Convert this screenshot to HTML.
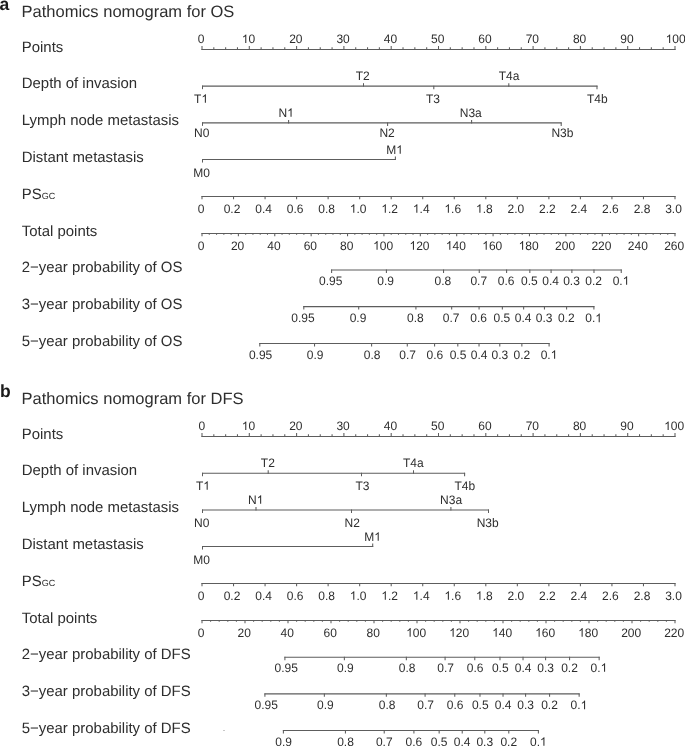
<!DOCTYPE html>
<html><head><meta charset="utf-8"><style>
html,body{margin:0;padding:0;background:#fff;}
svg{display:block;will-change:transform;text-rendering:geometricPrecision;font-family:"Liberation Sans", sans-serif;}
</style></head><body>
<svg width="685" height="746" viewBox="0 0 685 746">
<text x="-0.50" y="10.20" font-size="17.5" text-anchor="start" font-weight="bold" fill="#1a1a1a">a</text>
<text x="21.60" y="17.00" font-size="16.5" text-anchor="start" font-weight="normal" fill="#2e2e2e">Pathomics nomogram for OS</text>
<text x="21.75" y="51.90" font-size="14.95" text-anchor="start" font-weight="normal" fill="#2e2e2e">Points</text>
<line x1="201.50" y1="49.50" x2="675.50" y2="49.50" stroke="#5d5d5d" stroke-width="1.06"/>
<line x1="202.00" y1="50.00" x2="202.00" y2="46.00" stroke="#5d5d5d" stroke-width="1.06"/>
<text x="197.86" y="0" font-size="12" fill="#2e2e2e" transform="translate(0,43.00) scale(1,1.03)">0</text>
<line x1="213.82" y1="50.00" x2="213.82" y2="47.20" stroke="#5d5d5d" stroke-width="1.06"/>
<line x1="225.65" y1="50.00" x2="225.65" y2="47.20" stroke="#5d5d5d" stroke-width="1.06"/>
<line x1="237.47" y1="50.00" x2="237.47" y2="47.20" stroke="#5d5d5d" stroke-width="1.06"/>
<line x1="249.30" y1="50.00" x2="249.30" y2="46.00" stroke="#5d5d5d" stroke-width="1.06"/>
<text x="241.83" y="0" font-size="12" fill="#2e2e2e" transform="translate(0,43.00) scale(1,1.03)"> 0</text>
<path d="M763 0L583 0L583 1147Q518 1085 412 1023Q306 961 222 930L222 1104Q373 1175 486 1276Q599 1377 646 1466L763 1466Z" fill="#2e2e2e" transform="translate(241.83,43.00) scale(0.005859,-0.005859)"/>
<line x1="261.12" y1="50.00" x2="261.12" y2="47.20" stroke="#5d5d5d" stroke-width="1.06"/>
<line x1="272.95" y1="50.00" x2="272.95" y2="47.20" stroke="#5d5d5d" stroke-width="1.06"/>
<line x1="284.77" y1="50.00" x2="284.77" y2="47.20" stroke="#5d5d5d" stroke-width="1.06"/>
<line x1="296.60" y1="50.00" x2="296.60" y2="46.00" stroke="#5d5d5d" stroke-width="1.06"/>
<text x="289.13" y="0" font-size="12" fill="#2e2e2e" transform="translate(0,43.00) scale(1,1.03)">20</text>
<line x1="308.43" y1="50.00" x2="308.43" y2="47.20" stroke="#5d5d5d" stroke-width="1.06"/>
<line x1="320.25" y1="50.00" x2="320.25" y2="47.20" stroke="#5d5d5d" stroke-width="1.06"/>
<line x1="332.07" y1="50.00" x2="332.07" y2="47.20" stroke="#5d5d5d" stroke-width="1.06"/>
<line x1="343.90" y1="50.00" x2="343.90" y2="46.00" stroke="#5d5d5d" stroke-width="1.06"/>
<text x="336.43" y="0" font-size="12" fill="#2e2e2e" transform="translate(0,43.00) scale(1,1.03)">30</text>
<line x1="355.73" y1="50.00" x2="355.73" y2="47.20" stroke="#5d5d5d" stroke-width="1.06"/>
<line x1="367.55" y1="50.00" x2="367.55" y2="47.20" stroke="#5d5d5d" stroke-width="1.06"/>
<line x1="379.38" y1="50.00" x2="379.38" y2="47.20" stroke="#5d5d5d" stroke-width="1.06"/>
<line x1="391.20" y1="50.00" x2="391.20" y2="46.00" stroke="#5d5d5d" stroke-width="1.06"/>
<text x="383.73" y="0" font-size="12" fill="#2e2e2e" transform="translate(0,43.00) scale(1,1.03)">40</text>
<line x1="403.02" y1="50.00" x2="403.02" y2="47.20" stroke="#5d5d5d" stroke-width="1.06"/>
<line x1="414.85" y1="50.00" x2="414.85" y2="47.20" stroke="#5d5d5d" stroke-width="1.06"/>
<line x1="426.68" y1="50.00" x2="426.68" y2="47.20" stroke="#5d5d5d" stroke-width="1.06"/>
<line x1="438.50" y1="50.00" x2="438.50" y2="46.00" stroke="#5d5d5d" stroke-width="1.06"/>
<text x="431.03" y="0" font-size="12" fill="#2e2e2e" transform="translate(0,43.00) scale(1,1.03)">50</text>
<line x1="450.32" y1="50.00" x2="450.32" y2="47.20" stroke="#5d5d5d" stroke-width="1.06"/>
<line x1="462.15" y1="50.00" x2="462.15" y2="47.20" stroke="#5d5d5d" stroke-width="1.06"/>
<line x1="473.98" y1="50.00" x2="473.98" y2="47.20" stroke="#5d5d5d" stroke-width="1.06"/>
<line x1="485.80" y1="50.00" x2="485.80" y2="46.00" stroke="#5d5d5d" stroke-width="1.06"/>
<text x="478.33" y="0" font-size="12" fill="#2e2e2e" transform="translate(0,43.00) scale(1,1.03)">60</text>
<line x1="497.62" y1="50.00" x2="497.62" y2="47.20" stroke="#5d5d5d" stroke-width="1.06"/>
<line x1="509.45" y1="50.00" x2="509.45" y2="47.20" stroke="#5d5d5d" stroke-width="1.06"/>
<line x1="521.27" y1="50.00" x2="521.27" y2="47.20" stroke="#5d5d5d" stroke-width="1.06"/>
<line x1="533.10" y1="50.00" x2="533.10" y2="46.00" stroke="#5d5d5d" stroke-width="1.06"/>
<text x="525.63" y="0" font-size="12" fill="#2e2e2e" transform="translate(0,43.00) scale(1,1.03)">70</text>
<line x1="544.92" y1="50.00" x2="544.92" y2="47.20" stroke="#5d5d5d" stroke-width="1.06"/>
<line x1="556.75" y1="50.00" x2="556.75" y2="47.20" stroke="#5d5d5d" stroke-width="1.06"/>
<line x1="568.58" y1="50.00" x2="568.58" y2="47.20" stroke="#5d5d5d" stroke-width="1.06"/>
<line x1="580.40" y1="50.00" x2="580.40" y2="46.00" stroke="#5d5d5d" stroke-width="1.06"/>
<text x="572.93" y="0" font-size="12" fill="#2e2e2e" transform="translate(0,43.00) scale(1,1.03)">80</text>
<line x1="592.23" y1="50.00" x2="592.23" y2="47.20" stroke="#5d5d5d" stroke-width="1.06"/>
<line x1="604.05" y1="50.00" x2="604.05" y2="47.20" stroke="#5d5d5d" stroke-width="1.06"/>
<line x1="615.88" y1="50.00" x2="615.88" y2="47.20" stroke="#5d5d5d" stroke-width="1.06"/>
<line x1="627.70" y1="50.00" x2="627.70" y2="46.00" stroke="#5d5d5d" stroke-width="1.06"/>
<text x="620.23" y="0" font-size="12" fill="#2e2e2e" transform="translate(0,43.00) scale(1,1.03)">90</text>
<line x1="639.52" y1="50.00" x2="639.52" y2="47.20" stroke="#5d5d5d" stroke-width="1.06"/>
<line x1="651.35" y1="50.00" x2="651.35" y2="47.20" stroke="#5d5d5d" stroke-width="1.06"/>
<line x1="663.17" y1="50.00" x2="663.17" y2="47.20" stroke="#5d5d5d" stroke-width="1.06"/>
<line x1="675.00" y1="50.00" x2="675.00" y2="46.00" stroke="#5d5d5d" stroke-width="1.06"/>
<text x="665.69" y="0" font-size="12" fill="#2e2e2e" transform="translate(0,43.00) scale(1,1.03)"> 00</text>
<path d="M763 0L583 0L583 1147Q518 1085 412 1023Q306 961 222 930L222 1104Q373 1175 486 1276Q599 1377 646 1466L763 1466Z" fill="#2e2e2e" transform="translate(665.69,43.00) scale(0.005859,-0.005859)"/>
<text x="21.75" y="87.90" font-size="14.95" text-anchor="start" font-weight="normal" fill="#2e2e2e">Depth of invasion</text>
<line x1="202.00" y1="86.15" x2="597.50" y2="86.15" stroke="#5d5d5d" stroke-width="1.06"/>
<line x1="202.50" y1="85.65" x2="202.50" y2="89.15" stroke="#5d5d5d" stroke-width="1.06"/>
<text x="194.10" y="0" font-size="12" fill="#2e2e2e" transform="translate(0,102.85) scale(1,1.03)">T </text>
<path d="M763 0L583 0L583 1147Q518 1085 412 1023Q306 961 222 930L222 1104Q373 1175 486 1276Q599 1377 646 1466L763 1466Z" fill="#2e2e2e" transform="translate(201.43,102.85) scale(0.005859,-0.005859)"/>
<line x1="363.50" y1="86.65" x2="363.50" y2="83.15" stroke="#5d5d5d" stroke-width="1.06"/>
<text x="355.70" y="0" font-size="12" fill="#2e2e2e" transform="translate(0,80.00) scale(1,1.03)">T2</text>
<line x1="433.80" y1="85.65" x2="433.80" y2="89.15" stroke="#5d5d5d" stroke-width="1.06"/>
<text x="426.00" y="0" font-size="12" fill="#2e2e2e" transform="translate(0,102.85) scale(1,1.03)">T3</text>
<line x1="508.80" y1="86.65" x2="508.80" y2="83.15" stroke="#5d5d5d" stroke-width="1.06"/>
<text x="498.76" y="0" font-size="12" fill="#2e2e2e" transform="translate(0,80.00) scale(1,1.03)">T4a</text>
<line x1="597.00" y1="85.65" x2="597.00" y2="89.15" stroke="#5d5d5d" stroke-width="1.06"/>
<text x="586.96" y="0" font-size="12" fill="#2e2e2e" transform="translate(0,102.85) scale(1,1.03)">T4b</text>
<text x="21.75" y="124.90" font-size="14.95" text-anchor="start" font-weight="normal" fill="#2e2e2e">Lymph node metastasis</text>
<line x1="202.00" y1="122.88" x2="561.70" y2="122.88" stroke="#5d5d5d" stroke-width="1.06"/>
<line x1="202.50" y1="122.38" x2="202.50" y2="125.88" stroke="#5d5d5d" stroke-width="1.06"/>
<text x="194.03" y="0" font-size="12" fill="#2e2e2e" transform="translate(0,136.75) scale(1,1.03)">N0</text>
<line x1="288.60" y1="123.38" x2="288.60" y2="119.88" stroke="#5d5d5d" stroke-width="1.06"/>
<text x="278.43" y="0" font-size="12" fill="#2e2e2e" transform="translate(0,116.85) scale(1,1.03)">N </text>
<path d="M763 0L583 0L583 1147Q518 1085 412 1023Q306 961 222 930L222 1104Q373 1175 486 1276Q599 1377 646 1466L763 1466Z" fill="#2e2e2e" transform="translate(287.10,116.85) scale(0.005859,-0.005859)"/>
<line x1="387.60" y1="122.38" x2="387.60" y2="125.88" stroke="#5d5d5d" stroke-width="1.06"/>
<text x="379.43" y="0" font-size="12" fill="#2e2e2e" transform="translate(0,136.75) scale(1,1.03)">N2</text>
<line x1="471.60" y1="123.38" x2="471.60" y2="119.88" stroke="#5d5d5d" stroke-width="1.06"/>
<text x="459.79" y="0" font-size="12" fill="#2e2e2e" transform="translate(0,116.85) scale(1,1.03)">N3a</text>
<line x1="561.20" y1="122.38" x2="561.20" y2="125.88" stroke="#5d5d5d" stroke-width="1.06"/>
<text x="551.39" y="0" font-size="12" fill="#2e2e2e" transform="translate(0,136.75) scale(1,1.03)">N3b</text>
<text x="21.75" y="161.90" font-size="14.95" text-anchor="start" font-weight="normal" fill="#2e2e2e">Distant metastasis</text>
<line x1="202.00" y1="159.55" x2="395.90" y2="159.55" stroke="#5d5d5d" stroke-width="1.06"/>
<line x1="202.50" y1="159.05" x2="202.50" y2="162.55" stroke="#5d5d5d" stroke-width="1.06"/>
<text x="193.37" y="0" font-size="12" fill="#2e2e2e" transform="translate(0,176.70) scale(1,1.03)">M0</text>
<line x1="395.40" y1="160.05" x2="395.40" y2="156.55" stroke="#5d5d5d" stroke-width="1.06"/>
<text x="386.27" y="0" font-size="12" fill="#2e2e2e" transform="translate(0,153.80) scale(1,1.03)">M </text>
<path d="M763 0L583 0L583 1147Q518 1085 412 1023Q306 961 222 930L222 1104Q373 1175 486 1276Q599 1377 646 1466L763 1466Z" fill="#2e2e2e" transform="translate(396.26,153.80) scale(0.005859,-0.005859)"/>
<text x="21.75" y="198.80" font-size="14.95" fill="#2e2e2e">PS<tspan font-size="9">GC</tspan></text>
<line x1="201.50" y1="196.50" x2="675.50" y2="196.50" stroke="#5d5d5d" stroke-width="1.06"/>
<line x1="202.00" y1="196.00" x2="202.00" y2="199.20" stroke="#5d5d5d" stroke-width="1.06"/>
<text x="197.86" y="0" font-size="12" fill="#2e2e2e" transform="translate(0,212.80) scale(1,1.03)">0</text>
<line x1="233.53" y1="196.00" x2="233.53" y2="199.20" stroke="#5d5d5d" stroke-width="1.06"/>
<text x="223.69" y="0" font-size="12" fill="#2e2e2e" transform="translate(0,212.80) scale(1,1.03)">0.2</text>
<line x1="265.07" y1="196.00" x2="265.07" y2="199.20" stroke="#5d5d5d" stroke-width="1.06"/>
<text x="255.23" y="0" font-size="12" fill="#2e2e2e" transform="translate(0,212.80) scale(1,1.03)">0.4</text>
<line x1="296.60" y1="196.00" x2="296.60" y2="199.20" stroke="#5d5d5d" stroke-width="1.06"/>
<text x="286.76" y="0" font-size="12" fill="#2e2e2e" transform="translate(0,212.80) scale(1,1.03)">0.6</text>
<line x1="328.13" y1="196.00" x2="328.13" y2="199.20" stroke="#5d5d5d" stroke-width="1.06"/>
<text x="318.29" y="0" font-size="12" fill="#2e2e2e" transform="translate(0,212.80) scale(1,1.03)">0.8</text>
<line x1="359.67" y1="196.00" x2="359.67" y2="199.20" stroke="#5d5d5d" stroke-width="1.06"/>
<text x="349.83" y="0" font-size="12" fill="#2e2e2e" transform="translate(0,212.80) scale(1,1.03)"> .0</text>
<path d="M763 0L583 0L583 1147Q518 1085 412 1023Q306 961 222 930L222 1104Q373 1175 486 1276Q599 1377 646 1466L763 1466Z" fill="#2e2e2e" transform="translate(349.83,212.80) scale(0.005859,-0.005859)"/>
<line x1="391.20" y1="196.00" x2="391.20" y2="199.20" stroke="#5d5d5d" stroke-width="1.06"/>
<text x="381.36" y="0" font-size="12" fill="#2e2e2e" transform="translate(0,212.80) scale(1,1.03)"> .2</text>
<path d="M763 0L583 0L583 1147Q518 1085 412 1023Q306 961 222 930L222 1104Q373 1175 486 1276Q599 1377 646 1466L763 1466Z" fill="#2e2e2e" transform="translate(381.36,212.80) scale(0.005859,-0.005859)"/>
<line x1="422.73" y1="196.00" x2="422.73" y2="199.20" stroke="#5d5d5d" stroke-width="1.06"/>
<text x="412.89" y="0" font-size="12" fill="#2e2e2e" transform="translate(0,212.80) scale(1,1.03)"> .4</text>
<path d="M763 0L583 0L583 1147Q518 1085 412 1023Q306 961 222 930L222 1104Q373 1175 486 1276Q599 1377 646 1466L763 1466Z" fill="#2e2e2e" transform="translate(412.89,212.80) scale(0.005859,-0.005859)"/>
<line x1="454.27" y1="196.00" x2="454.27" y2="199.20" stroke="#5d5d5d" stroke-width="1.06"/>
<text x="444.43" y="0" font-size="12" fill="#2e2e2e" transform="translate(0,212.80) scale(1,1.03)"> .6</text>
<path d="M763 0L583 0L583 1147Q518 1085 412 1023Q306 961 222 930L222 1104Q373 1175 486 1276Q599 1377 646 1466L763 1466Z" fill="#2e2e2e" transform="translate(444.43,212.80) scale(0.005859,-0.005859)"/>
<line x1="485.80" y1="196.00" x2="485.80" y2="199.20" stroke="#5d5d5d" stroke-width="1.06"/>
<text x="475.96" y="0" font-size="12" fill="#2e2e2e" transform="translate(0,212.80) scale(1,1.03)"> .8</text>
<path d="M763 0L583 0L583 1147Q518 1085 412 1023Q306 961 222 930L222 1104Q373 1175 486 1276Q599 1377 646 1466L763 1466Z" fill="#2e2e2e" transform="translate(475.96,212.80) scale(0.005859,-0.005859)"/>
<line x1="517.33" y1="196.00" x2="517.33" y2="199.20" stroke="#5d5d5d" stroke-width="1.06"/>
<text x="507.49" y="0" font-size="12" fill="#2e2e2e" transform="translate(0,212.80) scale(1,1.03)">2.0</text>
<line x1="548.87" y1="196.00" x2="548.87" y2="199.20" stroke="#5d5d5d" stroke-width="1.06"/>
<text x="539.03" y="0" font-size="12" fill="#2e2e2e" transform="translate(0,212.80) scale(1,1.03)">2.2</text>
<line x1="580.40" y1="196.00" x2="580.40" y2="199.20" stroke="#5d5d5d" stroke-width="1.06"/>
<text x="570.56" y="0" font-size="12" fill="#2e2e2e" transform="translate(0,212.80) scale(1,1.03)">2.4</text>
<line x1="611.93" y1="196.00" x2="611.93" y2="199.20" stroke="#5d5d5d" stroke-width="1.06"/>
<text x="602.09" y="0" font-size="12" fill="#2e2e2e" transform="translate(0,212.80) scale(1,1.03)">2.6</text>
<line x1="643.47" y1="196.00" x2="643.47" y2="199.20" stroke="#5d5d5d" stroke-width="1.06"/>
<text x="633.63" y="0" font-size="12" fill="#2e2e2e" transform="translate(0,212.80) scale(1,1.03)">2.8</text>
<line x1="675.00" y1="196.00" x2="675.00" y2="199.20" stroke="#5d5d5d" stroke-width="1.06"/>
<text x="665.16" y="0" font-size="12" fill="#2e2e2e" transform="translate(0,212.80) scale(1,1.03)">3.0</text>
<text x="21.75" y="235.90" font-size="14.95" text-anchor="start" font-weight="normal" fill="#2e2e2e">Total points</text>
<line x1="201.50" y1="233.50" x2="675.50" y2="233.50" stroke="#5d5d5d" stroke-width="1.06"/>
<line x1="202.00" y1="233.00" x2="202.00" y2="236.20" stroke="#5d5d5d" stroke-width="1.06"/>
<text x="197.86" y="0" font-size="12" fill="#2e2e2e" transform="translate(0,249.70) scale(1,1.03)">0</text>
<line x1="238.38" y1="233.00" x2="238.38" y2="236.20" stroke="#5d5d5d" stroke-width="1.06"/>
<text x="230.91" y="0" font-size="12" fill="#2e2e2e" transform="translate(0,249.70) scale(1,1.03)">20</text>
<line x1="274.77" y1="233.00" x2="274.77" y2="236.20" stroke="#5d5d5d" stroke-width="1.06"/>
<text x="267.30" y="0" font-size="12" fill="#2e2e2e" transform="translate(0,249.70) scale(1,1.03)">40</text>
<line x1="311.15" y1="233.00" x2="311.15" y2="236.20" stroke="#5d5d5d" stroke-width="1.06"/>
<text x="303.68" y="0" font-size="12" fill="#2e2e2e" transform="translate(0,249.70) scale(1,1.03)">60</text>
<line x1="347.54" y1="233.00" x2="347.54" y2="236.20" stroke="#5d5d5d" stroke-width="1.06"/>
<text x="340.06" y="0" font-size="12" fill="#2e2e2e" transform="translate(0,249.70) scale(1,1.03)">80</text>
<line x1="383.92" y1="233.00" x2="383.92" y2="236.20" stroke="#5d5d5d" stroke-width="1.06"/>
<text x="373.11" y="0" font-size="12" fill="#2e2e2e" transform="translate(0,249.70) scale(1,1.03)"> 00</text>
<path d="M763 0L583 0L583 1147Q518 1085 412 1023Q306 961 222 930L222 1104Q373 1175 486 1276Q599 1377 646 1466L763 1466Z" fill="#2e2e2e" transform="translate(373.11,249.70) scale(0.005859,-0.005859)"/>
<line x1="420.31" y1="233.00" x2="420.31" y2="236.20" stroke="#5d5d5d" stroke-width="1.06"/>
<text x="409.50" y="0" font-size="12" fill="#2e2e2e" transform="translate(0,249.70) scale(1,1.03)"> 20</text>
<path d="M763 0L583 0L583 1147Q518 1085 412 1023Q306 961 222 930L222 1104Q373 1175 486 1276Q599 1377 646 1466L763 1466Z" fill="#2e2e2e" transform="translate(409.50,249.70) scale(0.005859,-0.005859)"/>
<line x1="456.69" y1="233.00" x2="456.69" y2="236.20" stroke="#5d5d5d" stroke-width="1.06"/>
<text x="445.88" y="0" font-size="12" fill="#2e2e2e" transform="translate(0,249.70) scale(1,1.03)"> 40</text>
<path d="M763 0L583 0L583 1147Q518 1085 412 1023Q306 961 222 930L222 1104Q373 1175 486 1276Q599 1377 646 1466L763 1466Z" fill="#2e2e2e" transform="translate(445.88,249.70) scale(0.005859,-0.005859)"/>
<line x1="493.08" y1="233.00" x2="493.08" y2="236.20" stroke="#5d5d5d" stroke-width="1.06"/>
<text x="482.27" y="0" font-size="12" fill="#2e2e2e" transform="translate(0,249.70) scale(1,1.03)"> 60</text>
<path d="M763 0L583 0L583 1147Q518 1085 412 1023Q306 961 222 930L222 1104Q373 1175 486 1276Q599 1377 646 1466L763 1466Z" fill="#2e2e2e" transform="translate(482.27,249.70) scale(0.005859,-0.005859)"/>
<line x1="529.46" y1="233.00" x2="529.46" y2="236.20" stroke="#5d5d5d" stroke-width="1.06"/>
<text x="518.65" y="0" font-size="12" fill="#2e2e2e" transform="translate(0,249.70) scale(1,1.03)"> 80</text>
<path d="M763 0L583 0L583 1147Q518 1085 412 1023Q306 961 222 930L222 1104Q373 1175 486 1276Q599 1377 646 1466L763 1466Z" fill="#2e2e2e" transform="translate(518.65,249.70) scale(0.005859,-0.005859)"/>
<line x1="565.85" y1="233.00" x2="565.85" y2="236.20" stroke="#5d5d5d" stroke-width="1.06"/>
<text x="555.04" y="0" font-size="12" fill="#2e2e2e" transform="translate(0,249.70) scale(1,1.03)">200</text>
<line x1="602.23" y1="233.00" x2="602.23" y2="236.20" stroke="#5d5d5d" stroke-width="1.06"/>
<text x="591.42" y="0" font-size="12" fill="#2e2e2e" transform="translate(0,249.70) scale(1,1.03)">220</text>
<line x1="638.62" y1="233.00" x2="638.62" y2="236.20" stroke="#5d5d5d" stroke-width="1.06"/>
<text x="627.80" y="0" font-size="12" fill="#2e2e2e" transform="translate(0,249.70) scale(1,1.03)">240</text>
<line x1="675.00" y1="233.00" x2="675.00" y2="236.20" stroke="#5d5d5d" stroke-width="1.06"/>
<text x="664.19" y="0" font-size="12" fill="#2e2e2e" transform="translate(0,249.70) scale(1,1.03)">260</text>
<line x1="209.28" y1="233.00" x2="209.28" y2="234.80" stroke="#5d5d5d" stroke-width="1.06"/>
<line x1="216.55" y1="233.00" x2="216.55" y2="234.80" stroke="#5d5d5d" stroke-width="1.06"/>
<line x1="223.83" y1="233.00" x2="223.83" y2="234.80" stroke="#5d5d5d" stroke-width="1.06"/>
<line x1="231.11" y1="233.00" x2="231.11" y2="234.80" stroke="#5d5d5d" stroke-width="1.06"/>
<line x1="245.66" y1="233.00" x2="245.66" y2="234.80" stroke="#5d5d5d" stroke-width="1.06"/>
<line x1="252.94" y1="233.00" x2="252.94" y2="234.80" stroke="#5d5d5d" stroke-width="1.06"/>
<line x1="260.22" y1="233.00" x2="260.22" y2="234.80" stroke="#5d5d5d" stroke-width="1.06"/>
<line x1="267.49" y1="233.00" x2="267.49" y2="234.80" stroke="#5d5d5d" stroke-width="1.06"/>
<line x1="282.05" y1="233.00" x2="282.05" y2="234.80" stroke="#5d5d5d" stroke-width="1.06"/>
<line x1="289.32" y1="233.00" x2="289.32" y2="234.80" stroke="#5d5d5d" stroke-width="1.06"/>
<line x1="296.60" y1="233.00" x2="296.60" y2="234.80" stroke="#5d5d5d" stroke-width="1.06"/>
<line x1="303.88" y1="233.00" x2="303.88" y2="234.80" stroke="#5d5d5d" stroke-width="1.06"/>
<line x1="318.43" y1="233.00" x2="318.43" y2="234.80" stroke="#5d5d5d" stroke-width="1.06"/>
<line x1="325.71" y1="233.00" x2="325.71" y2="234.80" stroke="#5d5d5d" stroke-width="1.06"/>
<line x1="332.98" y1="233.00" x2="332.98" y2="234.80" stroke="#5d5d5d" stroke-width="1.06"/>
<line x1="340.26" y1="233.00" x2="340.26" y2="234.80" stroke="#5d5d5d" stroke-width="1.06"/>
<line x1="354.82" y1="233.00" x2="354.82" y2="234.80" stroke="#5d5d5d" stroke-width="1.06"/>
<line x1="362.09" y1="233.00" x2="362.09" y2="234.80" stroke="#5d5d5d" stroke-width="1.06"/>
<line x1="369.37" y1="233.00" x2="369.37" y2="234.80" stroke="#5d5d5d" stroke-width="1.06"/>
<line x1="376.65" y1="233.00" x2="376.65" y2="234.80" stroke="#5d5d5d" stroke-width="1.06"/>
<line x1="391.20" y1="233.00" x2="391.20" y2="234.80" stroke="#5d5d5d" stroke-width="1.06"/>
<line x1="398.48" y1="233.00" x2="398.48" y2="234.80" stroke="#5d5d5d" stroke-width="1.06"/>
<line x1="405.75" y1="233.00" x2="405.75" y2="234.80" stroke="#5d5d5d" stroke-width="1.06"/>
<line x1="413.03" y1="233.00" x2="413.03" y2="234.80" stroke="#5d5d5d" stroke-width="1.06"/>
<line x1="427.58" y1="233.00" x2="427.58" y2="234.80" stroke="#5d5d5d" stroke-width="1.06"/>
<line x1="434.86" y1="233.00" x2="434.86" y2="234.80" stroke="#5d5d5d" stroke-width="1.06"/>
<line x1="442.14" y1="233.00" x2="442.14" y2="234.80" stroke="#5d5d5d" stroke-width="1.06"/>
<line x1="449.42" y1="233.00" x2="449.42" y2="234.80" stroke="#5d5d5d" stroke-width="1.06"/>
<line x1="463.97" y1="233.00" x2="463.97" y2="234.80" stroke="#5d5d5d" stroke-width="1.06"/>
<line x1="471.25" y1="233.00" x2="471.25" y2="234.80" stroke="#5d5d5d" stroke-width="1.06"/>
<line x1="478.52" y1="233.00" x2="478.52" y2="234.80" stroke="#5d5d5d" stroke-width="1.06"/>
<line x1="485.80" y1="233.00" x2="485.80" y2="234.80" stroke="#5d5d5d" stroke-width="1.06"/>
<line x1="500.35" y1="233.00" x2="500.35" y2="234.80" stroke="#5d5d5d" stroke-width="1.06"/>
<line x1="507.63" y1="233.00" x2="507.63" y2="234.80" stroke="#5d5d5d" stroke-width="1.06"/>
<line x1="514.91" y1="233.00" x2="514.91" y2="234.80" stroke="#5d5d5d" stroke-width="1.06"/>
<line x1="522.18" y1="233.00" x2="522.18" y2="234.80" stroke="#5d5d5d" stroke-width="1.06"/>
<line x1="536.74" y1="233.00" x2="536.74" y2="234.80" stroke="#5d5d5d" stroke-width="1.06"/>
<line x1="544.02" y1="233.00" x2="544.02" y2="234.80" stroke="#5d5d5d" stroke-width="1.06"/>
<line x1="551.29" y1="233.00" x2="551.29" y2="234.80" stroke="#5d5d5d" stroke-width="1.06"/>
<line x1="558.57" y1="233.00" x2="558.57" y2="234.80" stroke="#5d5d5d" stroke-width="1.06"/>
<line x1="573.12" y1="233.00" x2="573.12" y2="234.80" stroke="#5d5d5d" stroke-width="1.06"/>
<line x1="580.40" y1="233.00" x2="580.40" y2="234.80" stroke="#5d5d5d" stroke-width="1.06"/>
<line x1="587.68" y1="233.00" x2="587.68" y2="234.80" stroke="#5d5d5d" stroke-width="1.06"/>
<line x1="594.95" y1="233.00" x2="594.95" y2="234.80" stroke="#5d5d5d" stroke-width="1.06"/>
<line x1="609.51" y1="233.00" x2="609.51" y2="234.80" stroke="#5d5d5d" stroke-width="1.06"/>
<line x1="616.78" y1="233.00" x2="616.78" y2="234.80" stroke="#5d5d5d" stroke-width="1.06"/>
<line x1="624.06" y1="233.00" x2="624.06" y2="234.80" stroke="#5d5d5d" stroke-width="1.06"/>
<line x1="631.34" y1="233.00" x2="631.34" y2="234.80" stroke="#5d5d5d" stroke-width="1.06"/>
<line x1="645.89" y1="233.00" x2="645.89" y2="234.80" stroke="#5d5d5d" stroke-width="1.06"/>
<line x1="653.17" y1="233.00" x2="653.17" y2="234.80" stroke="#5d5d5d" stroke-width="1.06"/>
<line x1="660.45" y1="233.00" x2="660.45" y2="234.80" stroke="#5d5d5d" stroke-width="1.06"/>
<line x1="667.72" y1="233.00" x2="667.72" y2="234.80" stroke="#5d5d5d" stroke-width="1.06"/>
<text x="21.75" y="272.20" font-size="14.95" text-anchor="start" font-weight="normal" fill="#2e2e2e">2−year probability of OS</text>
<line x1="331.10" y1="270.00" x2="621.75" y2="270.00" stroke="#5d5d5d" stroke-width="1.06"/>
<line x1="331.60" y1="269.50" x2="331.60" y2="272.90" stroke="#5d5d5d" stroke-width="1.06"/>
<text x="319.12" y="0" font-size="12" fill="#2e2e2e" transform="translate(0,284.80) scale(1,1.03)">0.95</text>
<line x1="386.41" y1="269.50" x2="386.41" y2="272.90" stroke="#5d5d5d" stroke-width="1.06"/>
<text x="377.37" y="0" font-size="12" fill="#2e2e2e" transform="translate(0,284.80) scale(1,1.03)">0.9</text>
<line x1="443.54" y1="269.50" x2="443.54" y2="272.90" stroke="#5d5d5d" stroke-width="1.06"/>
<text x="434.62" y="0" font-size="12" fill="#2e2e2e" transform="translate(0,284.80) scale(1,1.03)">0.8</text>
<line x1="479.25" y1="269.50" x2="479.25" y2="272.90" stroke="#5d5d5d" stroke-width="1.06"/>
<text x="470.39" y="0" font-size="12" fill="#2e2e2e" transform="translate(0,284.80) scale(1,1.03)">0.7</text>
<line x1="506.60" y1="269.50" x2="506.60" y2="272.90" stroke="#5d5d5d" stroke-width="1.06"/>
<text x="497.79" y="0" font-size="12" fill="#2e2e2e" transform="translate(0,284.80) scale(1,1.03)">0.6</text>
<line x1="529.84" y1="269.50" x2="529.84" y2="272.90" stroke="#5d5d5d" stroke-width="1.06"/>
<text x="521.08" y="0" font-size="12" fill="#2e2e2e" transform="translate(0,284.80) scale(1,1.03)">0.5</text>
<line x1="551.09" y1="269.50" x2="551.09" y2="272.90" stroke="#5d5d5d" stroke-width="1.06"/>
<text x="542.37" y="0" font-size="12" fill="#2e2e2e" transform="translate(0,284.80) scale(1,1.03)">0.4</text>
<line x1="571.88" y1="269.50" x2="571.88" y2="272.90" stroke="#5d5d5d" stroke-width="1.06"/>
<text x="563.20" y="0" font-size="12" fill="#2e2e2e" transform="translate(0,284.80) scale(1,1.03)">0.3</text>
<line x1="593.98" y1="269.50" x2="593.98" y2="272.90" stroke="#5d5d5d" stroke-width="1.06"/>
<text x="585.34" y="0" font-size="12" fill="#2e2e2e" transform="translate(0,284.80) scale(1,1.03)">0.2</text>
<line x1="621.25" y1="269.50" x2="621.25" y2="272.90" stroke="#5d5d5d" stroke-width="1.06"/>
<text x="612.66" y="0" font-size="12" fill="#2e2e2e" transform="translate(0,284.80) scale(1,1.03)">0. </text>
<path d="M763 0L583 0L583 1147Q518 1085 412 1023Q306 961 222 930L222 1104Q373 1175 486 1276Q599 1377 646 1466L763 1466Z" fill="#2e2e2e" transform="translate(622.67,284.80) scale(0.005859,-0.005859)"/>
<text x="21.75" y="309.00" font-size="14.95" text-anchor="start" font-weight="normal" fill="#2e2e2e">3−year probability of OS</text>
<line x1="303.30" y1="306.60" x2="594.40" y2="306.60" stroke="#5d5d5d" stroke-width="1.06"/>
<line x1="303.80" y1="306.10" x2="303.80" y2="309.50" stroke="#5d5d5d" stroke-width="1.06"/>
<text x="291.32" y="0" font-size="12" fill="#2e2e2e" transform="translate(0,322.20) scale(1,1.03)">0.95</text>
<line x1="358.69" y1="306.10" x2="358.69" y2="309.50" stroke="#5d5d5d" stroke-width="1.06"/>
<text x="349.65" y="0" font-size="12" fill="#2e2e2e" transform="translate(0,322.20) scale(1,1.03)">0.9</text>
<line x1="415.92" y1="306.10" x2="415.92" y2="309.50" stroke="#5d5d5d" stroke-width="1.06"/>
<text x="406.97" y="0" font-size="12" fill="#2e2e2e" transform="translate(0,322.20) scale(1,1.03)">0.8</text>
<line x1="451.68" y1="306.10" x2="451.68" y2="309.50" stroke="#5d5d5d" stroke-width="1.06"/>
<text x="442.80" y="0" font-size="12" fill="#2e2e2e" transform="translate(0,322.20) scale(1,1.03)">0.7</text>
<line x1="479.07" y1="306.10" x2="479.07" y2="309.50" stroke="#5d5d5d" stroke-width="1.06"/>
<text x="470.24" y="0" font-size="12" fill="#2e2e2e" transform="translate(0,322.20) scale(1,1.03)">0.6</text>
<line x1="502.35" y1="306.10" x2="502.35" y2="309.50" stroke="#5d5d5d" stroke-width="1.06"/>
<text x="493.55" y="0" font-size="12" fill="#2e2e2e" transform="translate(0,322.20) scale(1,1.03)">0.5</text>
<line x1="523.63" y1="306.10" x2="523.63" y2="309.50" stroke="#5d5d5d" stroke-width="1.06"/>
<text x="514.87" y="0" font-size="12" fill="#2e2e2e" transform="translate(0,322.20) scale(1,1.03)">0.4</text>
<line x1="544.45" y1="306.10" x2="544.45" y2="309.50" stroke="#5d5d5d" stroke-width="1.06"/>
<text x="535.73" y="0" font-size="12" fill="#2e2e2e" transform="translate(0,322.20) scale(1,1.03)">0.3</text>
<line x1="566.59" y1="306.10" x2="566.59" y2="309.50" stroke="#5d5d5d" stroke-width="1.06"/>
<text x="557.90" y="0" font-size="12" fill="#2e2e2e" transform="translate(0,322.20) scale(1,1.03)">0.2</text>
<line x1="593.90" y1="306.10" x2="593.90" y2="309.50" stroke="#5d5d5d" stroke-width="1.06"/>
<text x="585.26" y="0" font-size="12" fill="#2e2e2e" transform="translate(0,322.20) scale(1,1.03)">0. </text>
<path d="M763 0L583 0L583 1147Q518 1085 412 1023Q306 961 222 930L222 1104Q373 1175 486 1276Q599 1377 646 1466L763 1466Z" fill="#2e2e2e" transform="translate(595.27,322.20) scale(0.005859,-0.005859)"/>
<text x="21.75" y="345.80" font-size="14.95" text-anchor="start" font-weight="normal" fill="#2e2e2e">5−year probability of OS</text>
<line x1="259.30" y1="343.50" x2="549.60" y2="343.50" stroke="#5d5d5d" stroke-width="1.06"/>
<line x1="259.80" y1="343.00" x2="259.80" y2="346.40" stroke="#5d5d5d" stroke-width="1.06"/>
<text x="248.92" y="0" font-size="12" fill="#2e2e2e" transform="translate(0,358.80) scale(1,1.03)">0.95</text>
<line x1="314.54" y1="343.00" x2="314.54" y2="346.40" stroke="#5d5d5d" stroke-width="1.06"/>
<text x="306.83" y="0" font-size="12" fill="#2e2e2e" transform="translate(0,358.80) scale(1,1.03)">0.9</text>
<line x1="371.61" y1="343.00" x2="371.61" y2="346.40" stroke="#5d5d5d" stroke-width="1.06"/>
<text x="363.72" y="0" font-size="12" fill="#2e2e2e" transform="translate(0,358.80) scale(1,1.03)">0.8</text>
<line x1="407.28" y1="343.00" x2="407.28" y2="346.40" stroke="#5d5d5d" stroke-width="1.06"/>
<text x="399.28" y="0" font-size="12" fill="#2e2e2e" transform="translate(0,358.80) scale(1,1.03)">0.7</text>
<line x1="434.59" y1="343.00" x2="434.59" y2="346.40" stroke="#5d5d5d" stroke-width="1.06"/>
<text x="426.51" y="0" font-size="12" fill="#2e2e2e" transform="translate(0,358.80) scale(1,1.03)">0.6</text>
<line x1="457.80" y1="343.00" x2="457.80" y2="346.40" stroke="#5d5d5d" stroke-width="1.06"/>
<text x="449.65" y="0" font-size="12" fill="#2e2e2e" transform="translate(0,358.80) scale(1,1.03)">0.5</text>
<line x1="479.03" y1="343.00" x2="479.03" y2="346.40" stroke="#5d5d5d" stroke-width="1.06"/>
<text x="470.80" y="0" font-size="12" fill="#2e2e2e" transform="translate(0,358.80) scale(1,1.03)">0.4</text>
<line x1="499.79" y1="343.00" x2="499.79" y2="346.40" stroke="#5d5d5d" stroke-width="1.06"/>
<text x="491.50" y="0" font-size="12" fill="#2e2e2e" transform="translate(0,358.80) scale(1,1.03)">0.3</text>
<line x1="521.86" y1="343.00" x2="521.86" y2="346.40" stroke="#5d5d5d" stroke-width="1.06"/>
<text x="513.51" y="0" font-size="12" fill="#2e2e2e" transform="translate(0,358.80) scale(1,1.03)">0.2</text>
<line x1="549.10" y1="343.00" x2="549.10" y2="346.40" stroke="#5d5d5d" stroke-width="1.06"/>
<text x="540.66" y="0" font-size="12" fill="#2e2e2e" transform="translate(0,358.80) scale(1,1.03)">0. </text>
<path d="M763 0L583 0L583 1147Q518 1085 412 1023Q306 961 222 930L222 1104Q373 1175 486 1276Q599 1377 646 1466L763 1466Z" fill="#2e2e2e" transform="translate(550.67,358.80) scale(0.005859,-0.005859)"/>
<text x="0.00" y="397.20" font-size="17.5" text-anchor="start" font-weight="bold" fill="#1a1a1a">b</text>
<text x="21.60" y="404.00" font-size="16.5" text-anchor="start" font-weight="normal" fill="#2e2e2e">Pathomics nomogram for DFS</text>
<text x="21.75" y="438.90" font-size="14.95" text-anchor="start" font-weight="normal" fill="#2e2e2e">Points</text>
<line x1="201.50" y1="436.50" x2="675.50" y2="436.50" stroke="#5d5d5d" stroke-width="1.06"/>
<line x1="202.00" y1="437.00" x2="202.00" y2="433.00" stroke="#5d5d5d" stroke-width="1.06"/>
<text x="198.56" y="0" font-size="12" fill="#2e2e2e" transform="translate(0,430.00) scale(1,1.03)">0</text>
<line x1="213.82" y1="437.00" x2="213.82" y2="434.20" stroke="#5d5d5d" stroke-width="1.06"/>
<line x1="225.65" y1="437.00" x2="225.65" y2="434.20" stroke="#5d5d5d" stroke-width="1.06"/>
<line x1="237.47" y1="437.00" x2="237.47" y2="434.20" stroke="#5d5d5d" stroke-width="1.06"/>
<line x1="249.30" y1="437.00" x2="249.30" y2="433.00" stroke="#5d5d5d" stroke-width="1.06"/>
<text x="241.83" y="0" font-size="12" fill="#2e2e2e" transform="translate(0,430.00) scale(1,1.03)"> 0</text>
<path d="M763 0L583 0L583 1147Q518 1085 412 1023Q306 961 222 930L222 1104Q373 1175 486 1276Q599 1377 646 1466L763 1466Z" fill="#2e2e2e" transform="translate(241.83,430.00) scale(0.005859,-0.005859)"/>
<line x1="261.12" y1="437.00" x2="261.12" y2="434.20" stroke="#5d5d5d" stroke-width="1.06"/>
<line x1="272.95" y1="437.00" x2="272.95" y2="434.20" stroke="#5d5d5d" stroke-width="1.06"/>
<line x1="284.77" y1="437.00" x2="284.77" y2="434.20" stroke="#5d5d5d" stroke-width="1.06"/>
<line x1="296.60" y1="437.00" x2="296.60" y2="433.00" stroke="#5d5d5d" stroke-width="1.06"/>
<text x="289.13" y="0" font-size="12" fill="#2e2e2e" transform="translate(0,430.00) scale(1,1.03)">20</text>
<line x1="308.43" y1="437.00" x2="308.43" y2="434.20" stroke="#5d5d5d" stroke-width="1.06"/>
<line x1="320.25" y1="437.00" x2="320.25" y2="434.20" stroke="#5d5d5d" stroke-width="1.06"/>
<line x1="332.07" y1="437.00" x2="332.07" y2="434.20" stroke="#5d5d5d" stroke-width="1.06"/>
<line x1="343.90" y1="437.00" x2="343.90" y2="433.00" stroke="#5d5d5d" stroke-width="1.06"/>
<text x="336.43" y="0" font-size="12" fill="#2e2e2e" transform="translate(0,430.00) scale(1,1.03)">30</text>
<line x1="355.73" y1="437.00" x2="355.73" y2="434.20" stroke="#5d5d5d" stroke-width="1.06"/>
<line x1="367.55" y1="437.00" x2="367.55" y2="434.20" stroke="#5d5d5d" stroke-width="1.06"/>
<line x1="379.38" y1="437.00" x2="379.38" y2="434.20" stroke="#5d5d5d" stroke-width="1.06"/>
<line x1="391.20" y1="437.00" x2="391.20" y2="433.00" stroke="#5d5d5d" stroke-width="1.06"/>
<text x="383.73" y="0" font-size="12" fill="#2e2e2e" transform="translate(0,430.00) scale(1,1.03)">40</text>
<line x1="403.02" y1="437.00" x2="403.02" y2="434.20" stroke="#5d5d5d" stroke-width="1.06"/>
<line x1="414.85" y1="437.00" x2="414.85" y2="434.20" stroke="#5d5d5d" stroke-width="1.06"/>
<line x1="426.68" y1="437.00" x2="426.68" y2="434.20" stroke="#5d5d5d" stroke-width="1.06"/>
<line x1="438.50" y1="437.00" x2="438.50" y2="433.00" stroke="#5d5d5d" stroke-width="1.06"/>
<text x="431.03" y="0" font-size="12" fill="#2e2e2e" transform="translate(0,430.00) scale(1,1.03)">50</text>
<line x1="450.32" y1="437.00" x2="450.32" y2="434.20" stroke="#5d5d5d" stroke-width="1.06"/>
<line x1="462.15" y1="437.00" x2="462.15" y2="434.20" stroke="#5d5d5d" stroke-width="1.06"/>
<line x1="473.98" y1="437.00" x2="473.98" y2="434.20" stroke="#5d5d5d" stroke-width="1.06"/>
<line x1="485.80" y1="437.00" x2="485.80" y2="433.00" stroke="#5d5d5d" stroke-width="1.06"/>
<text x="478.33" y="0" font-size="12" fill="#2e2e2e" transform="translate(0,430.00) scale(1,1.03)">60</text>
<line x1="497.62" y1="437.00" x2="497.62" y2="434.20" stroke="#5d5d5d" stroke-width="1.06"/>
<line x1="509.45" y1="437.00" x2="509.45" y2="434.20" stroke="#5d5d5d" stroke-width="1.06"/>
<line x1="521.27" y1="437.00" x2="521.27" y2="434.20" stroke="#5d5d5d" stroke-width="1.06"/>
<line x1="533.10" y1="437.00" x2="533.10" y2="433.00" stroke="#5d5d5d" stroke-width="1.06"/>
<text x="525.63" y="0" font-size="12" fill="#2e2e2e" transform="translate(0,430.00) scale(1,1.03)">70</text>
<line x1="544.92" y1="437.00" x2="544.92" y2="434.20" stroke="#5d5d5d" stroke-width="1.06"/>
<line x1="556.75" y1="437.00" x2="556.75" y2="434.20" stroke="#5d5d5d" stroke-width="1.06"/>
<line x1="568.58" y1="437.00" x2="568.58" y2="434.20" stroke="#5d5d5d" stroke-width="1.06"/>
<line x1="580.40" y1="437.00" x2="580.40" y2="433.00" stroke="#5d5d5d" stroke-width="1.06"/>
<text x="572.93" y="0" font-size="12" fill="#2e2e2e" transform="translate(0,430.00) scale(1,1.03)">80</text>
<line x1="592.23" y1="437.00" x2="592.23" y2="434.20" stroke="#5d5d5d" stroke-width="1.06"/>
<line x1="604.05" y1="437.00" x2="604.05" y2="434.20" stroke="#5d5d5d" stroke-width="1.06"/>
<line x1="615.88" y1="437.00" x2="615.88" y2="434.20" stroke="#5d5d5d" stroke-width="1.06"/>
<line x1="627.70" y1="437.00" x2="627.70" y2="433.00" stroke="#5d5d5d" stroke-width="1.06"/>
<text x="620.23" y="0" font-size="12" fill="#2e2e2e" transform="translate(0,430.00) scale(1,1.03)">90</text>
<line x1="639.52" y1="437.00" x2="639.52" y2="434.20" stroke="#5d5d5d" stroke-width="1.06"/>
<line x1="651.35" y1="437.00" x2="651.35" y2="434.20" stroke="#5d5d5d" stroke-width="1.06"/>
<line x1="663.17" y1="437.00" x2="663.17" y2="434.20" stroke="#5d5d5d" stroke-width="1.06"/>
<line x1="675.00" y1="437.00" x2="675.00" y2="433.00" stroke="#5d5d5d" stroke-width="1.06"/>
<text x="664.19" y="0" font-size="12" fill="#2e2e2e" transform="translate(0,430.00) scale(1,1.03)"> 00</text>
<path d="M763 0L583 0L583 1147Q518 1085 412 1023Q306 961 222 930L222 1104Q373 1175 486 1276Q599 1377 646 1466L763 1466Z" fill="#2e2e2e" transform="translate(664.19,430.00) scale(0.005859,-0.005859)"/>
<text x="21.75" y="474.90" font-size="14.95" text-anchor="start" font-weight="normal" fill="#2e2e2e">Depth of invasion</text>
<line x1="202.00" y1="473.25" x2="465.10" y2="473.25" stroke="#5d5d5d" stroke-width="1.06"/>
<line x1="202.50" y1="472.75" x2="202.50" y2="476.25" stroke="#5d5d5d" stroke-width="1.06"/>
<text x="195.90" y="0" font-size="12" fill="#2e2e2e" transform="translate(0,489.85) scale(1,1.03)">T </text>
<path d="M763 0L583 0L583 1147Q518 1085 412 1023Q306 961 222 930L222 1104Q373 1175 486 1276Q599 1377 646 1466L763 1466Z" fill="#2e2e2e" transform="translate(203.23,489.85) scale(0.005859,-0.005859)"/>
<line x1="268.20" y1="473.75" x2="268.20" y2="470.25" stroke="#5d5d5d" stroke-width="1.06"/>
<text x="260.80" y="0" font-size="12" fill="#2e2e2e" transform="translate(0,467.00) scale(1,1.03)">T2</text>
<line x1="361.50" y1="472.75" x2="361.50" y2="476.25" stroke="#5d5d5d" stroke-width="1.06"/>
<text x="355.50" y="0" font-size="12" fill="#2e2e2e" transform="translate(0,489.85) scale(1,1.03)">T3</text>
<line x1="413.50" y1="473.75" x2="413.50" y2="470.25" stroke="#5d5d5d" stroke-width="1.06"/>
<text x="402.96" y="0" font-size="12" fill="#2e2e2e" transform="translate(0,467.00) scale(1,1.03)">T4a</text>
<line x1="464.60" y1="472.75" x2="464.60" y2="476.25" stroke="#5d5d5d" stroke-width="1.06"/>
<text x="454.46" y="0" font-size="12" fill="#2e2e2e" transform="translate(0,489.85) scale(1,1.03)">T4b</text>
<text x="21.75" y="511.90" font-size="14.95" text-anchor="start" font-weight="normal" fill="#2e2e2e">Lymph node metastasis</text>
<line x1="202.00" y1="509.98" x2="489.00" y2="509.98" stroke="#5d5d5d" stroke-width="1.06"/>
<line x1="202.50" y1="509.48" x2="202.50" y2="512.98" stroke="#5d5d5d" stroke-width="1.06"/>
<text x="194.03" y="0" font-size="12" fill="#2e2e2e" transform="translate(0,526.70) scale(1,1.03)">N0</text>
<line x1="256.00" y1="510.48" x2="256.00" y2="506.98" stroke="#5d5d5d" stroke-width="1.06"/>
<text x="248.03" y="0" font-size="12" fill="#2e2e2e" transform="translate(0,503.85) scale(1,1.03)">N </text>
<path d="M763 0L583 0L583 1147Q518 1085 412 1023Q306 961 222 930L222 1104Q373 1175 486 1276Q599 1377 646 1466L763 1466Z" fill="#2e2e2e" transform="translate(256.70,503.85) scale(0.005859,-0.005859)"/>
<line x1="351.50" y1="509.48" x2="351.50" y2="512.98" stroke="#5d5d5d" stroke-width="1.06"/>
<text x="344.53" y="0" font-size="12" fill="#2e2e2e" transform="translate(0,526.70) scale(1,1.03)">N2</text>
<line x1="450.90" y1="510.48" x2="450.90" y2="506.98" stroke="#5d5d5d" stroke-width="1.06"/>
<text x="440.09" y="0" font-size="12" fill="#2e2e2e" transform="translate(0,503.85) scale(1,1.03)">N3a</text>
<line x1="488.50" y1="509.48" x2="488.50" y2="512.98" stroke="#5d5d5d" stroke-width="1.06"/>
<text x="476.69" y="0" font-size="12" fill="#2e2e2e" transform="translate(0,526.70) scale(1,1.03)">N3b</text>
<text x="21.75" y="548.90" font-size="14.95" text-anchor="start" font-weight="normal" fill="#2e2e2e">Distant metastasis</text>
<line x1="202.00" y1="546.55" x2="373.20" y2="546.55" stroke="#5d5d5d" stroke-width="1.06"/>
<line x1="202.50" y1="546.05" x2="202.50" y2="549.55" stroke="#5d5d5d" stroke-width="1.06"/>
<text x="193.37" y="0" font-size="12" fill="#2e2e2e" transform="translate(0,563.70) scale(1,1.03)">M0</text>
<line x1="372.70" y1="547.05" x2="372.70" y2="543.55" stroke="#5d5d5d" stroke-width="1.06"/>
<text x="364.27" y="0" font-size="12" fill="#2e2e2e" transform="translate(0,540.80) scale(1,1.03)">M </text>
<path d="M763 0L583 0L583 1147Q518 1085 412 1023Q306 961 222 930L222 1104Q373 1175 486 1276Q599 1377 646 1466L763 1466Z" fill="#2e2e2e" transform="translate(374.26,540.80) scale(0.005859,-0.005859)"/>
<text x="21.75" y="585.80" font-size="14.95" fill="#2e2e2e">PS<tspan font-size="9">GC</tspan></text>
<line x1="201.50" y1="583.50" x2="675.50" y2="583.50" stroke="#5d5d5d" stroke-width="1.06"/>
<line x1="202.00" y1="583.00" x2="202.00" y2="586.20" stroke="#5d5d5d" stroke-width="1.06"/>
<text x="197.86" y="0" font-size="12" fill="#2e2e2e" transform="translate(0,599.80) scale(1,1.03)">0</text>
<line x1="233.53" y1="583.00" x2="233.53" y2="586.20" stroke="#5d5d5d" stroke-width="1.06"/>
<text x="223.69" y="0" font-size="12" fill="#2e2e2e" transform="translate(0,599.80) scale(1,1.03)">0.2</text>
<line x1="265.07" y1="583.00" x2="265.07" y2="586.20" stroke="#5d5d5d" stroke-width="1.06"/>
<text x="255.23" y="0" font-size="12" fill="#2e2e2e" transform="translate(0,599.80) scale(1,1.03)">0.4</text>
<line x1="296.60" y1="583.00" x2="296.60" y2="586.20" stroke="#5d5d5d" stroke-width="1.06"/>
<text x="286.76" y="0" font-size="12" fill="#2e2e2e" transform="translate(0,599.80) scale(1,1.03)">0.6</text>
<line x1="328.13" y1="583.00" x2="328.13" y2="586.20" stroke="#5d5d5d" stroke-width="1.06"/>
<text x="318.29" y="0" font-size="12" fill="#2e2e2e" transform="translate(0,599.80) scale(1,1.03)">0.8</text>
<line x1="359.67" y1="583.00" x2="359.67" y2="586.20" stroke="#5d5d5d" stroke-width="1.06"/>
<text x="349.83" y="0" font-size="12" fill="#2e2e2e" transform="translate(0,599.80) scale(1,1.03)"> .0</text>
<path d="M763 0L583 0L583 1147Q518 1085 412 1023Q306 961 222 930L222 1104Q373 1175 486 1276Q599 1377 646 1466L763 1466Z" fill="#2e2e2e" transform="translate(349.83,599.80) scale(0.005859,-0.005859)"/>
<line x1="391.20" y1="583.00" x2="391.20" y2="586.20" stroke="#5d5d5d" stroke-width="1.06"/>
<text x="381.36" y="0" font-size="12" fill="#2e2e2e" transform="translate(0,599.80) scale(1,1.03)"> .2</text>
<path d="M763 0L583 0L583 1147Q518 1085 412 1023Q306 961 222 930L222 1104Q373 1175 486 1276Q599 1377 646 1466L763 1466Z" fill="#2e2e2e" transform="translate(381.36,599.80) scale(0.005859,-0.005859)"/>
<line x1="422.73" y1="583.00" x2="422.73" y2="586.20" stroke="#5d5d5d" stroke-width="1.06"/>
<text x="412.89" y="0" font-size="12" fill="#2e2e2e" transform="translate(0,599.80) scale(1,1.03)"> .4</text>
<path d="M763 0L583 0L583 1147Q518 1085 412 1023Q306 961 222 930L222 1104Q373 1175 486 1276Q599 1377 646 1466L763 1466Z" fill="#2e2e2e" transform="translate(412.89,599.80) scale(0.005859,-0.005859)"/>
<line x1="454.27" y1="583.00" x2="454.27" y2="586.20" stroke="#5d5d5d" stroke-width="1.06"/>
<text x="444.43" y="0" font-size="12" fill="#2e2e2e" transform="translate(0,599.80) scale(1,1.03)"> .6</text>
<path d="M763 0L583 0L583 1147Q518 1085 412 1023Q306 961 222 930L222 1104Q373 1175 486 1276Q599 1377 646 1466L763 1466Z" fill="#2e2e2e" transform="translate(444.43,599.80) scale(0.005859,-0.005859)"/>
<line x1="485.80" y1="583.00" x2="485.80" y2="586.20" stroke="#5d5d5d" stroke-width="1.06"/>
<text x="475.96" y="0" font-size="12" fill="#2e2e2e" transform="translate(0,599.80) scale(1,1.03)"> .8</text>
<path d="M763 0L583 0L583 1147Q518 1085 412 1023Q306 961 222 930L222 1104Q373 1175 486 1276Q599 1377 646 1466L763 1466Z" fill="#2e2e2e" transform="translate(475.96,599.80) scale(0.005859,-0.005859)"/>
<line x1="517.33" y1="583.00" x2="517.33" y2="586.20" stroke="#5d5d5d" stroke-width="1.06"/>
<text x="507.49" y="0" font-size="12" fill="#2e2e2e" transform="translate(0,599.80) scale(1,1.03)">2.0</text>
<line x1="548.87" y1="583.00" x2="548.87" y2="586.20" stroke="#5d5d5d" stroke-width="1.06"/>
<text x="539.03" y="0" font-size="12" fill="#2e2e2e" transform="translate(0,599.80) scale(1,1.03)">2.2</text>
<line x1="580.40" y1="583.00" x2="580.40" y2="586.20" stroke="#5d5d5d" stroke-width="1.06"/>
<text x="570.56" y="0" font-size="12" fill="#2e2e2e" transform="translate(0,599.80) scale(1,1.03)">2.4</text>
<line x1="611.93" y1="583.00" x2="611.93" y2="586.20" stroke="#5d5d5d" stroke-width="1.06"/>
<text x="602.09" y="0" font-size="12" fill="#2e2e2e" transform="translate(0,599.80) scale(1,1.03)">2.6</text>
<line x1="643.47" y1="583.00" x2="643.47" y2="586.20" stroke="#5d5d5d" stroke-width="1.06"/>
<text x="633.63" y="0" font-size="12" fill="#2e2e2e" transform="translate(0,599.80) scale(1,1.03)">2.8</text>
<line x1="675.00" y1="583.00" x2="675.00" y2="586.20" stroke="#5d5d5d" stroke-width="1.06"/>
<text x="665.16" y="0" font-size="12" fill="#2e2e2e" transform="translate(0,599.80) scale(1,1.03)">3.0</text>
<text x="21.75" y="622.90" font-size="14.95" text-anchor="start" font-weight="normal" fill="#2e2e2e">Total points</text>
<line x1="201.50" y1="620.50" x2="675.50" y2="620.50" stroke="#5d5d5d" stroke-width="1.06"/>
<line x1="202.00" y1="620.00" x2="202.00" y2="623.20" stroke="#5d5d5d" stroke-width="1.06"/>
<text x="197.86" y="0" font-size="12" fill="#2e2e2e" transform="translate(0,636.70) scale(1,1.03)">0</text>
<line x1="245.00" y1="620.00" x2="245.00" y2="623.20" stroke="#5d5d5d" stroke-width="1.06"/>
<text x="237.53" y="0" font-size="12" fill="#2e2e2e" transform="translate(0,636.70) scale(1,1.03)">20</text>
<line x1="288.00" y1="620.00" x2="288.00" y2="623.20" stroke="#5d5d5d" stroke-width="1.06"/>
<text x="280.53" y="0" font-size="12" fill="#2e2e2e" transform="translate(0,636.70) scale(1,1.03)">40</text>
<line x1="331.00" y1="620.00" x2="331.00" y2="623.20" stroke="#5d5d5d" stroke-width="1.06"/>
<text x="323.53" y="0" font-size="12" fill="#2e2e2e" transform="translate(0,636.70) scale(1,1.03)">60</text>
<line x1="374.00" y1="620.00" x2="374.00" y2="623.20" stroke="#5d5d5d" stroke-width="1.06"/>
<text x="366.53" y="0" font-size="12" fill="#2e2e2e" transform="translate(0,636.70) scale(1,1.03)">80</text>
<line x1="417.00" y1="620.00" x2="417.00" y2="623.20" stroke="#5d5d5d" stroke-width="1.06"/>
<text x="406.19" y="0" font-size="12" fill="#2e2e2e" transform="translate(0,636.70) scale(1,1.03)"> 00</text>
<path d="M763 0L583 0L583 1147Q518 1085 412 1023Q306 961 222 930L222 1104Q373 1175 486 1276Q599 1377 646 1466L763 1466Z" fill="#2e2e2e" transform="translate(406.19,636.70) scale(0.005859,-0.005859)"/>
<line x1="460.00" y1="620.00" x2="460.00" y2="623.20" stroke="#5d5d5d" stroke-width="1.06"/>
<text x="449.19" y="0" font-size="12" fill="#2e2e2e" transform="translate(0,636.70) scale(1,1.03)"> 20</text>
<path d="M763 0L583 0L583 1147Q518 1085 412 1023Q306 961 222 930L222 1104Q373 1175 486 1276Q599 1377 646 1466L763 1466Z" fill="#2e2e2e" transform="translate(449.19,636.70) scale(0.005859,-0.005859)"/>
<line x1="503.00" y1="620.00" x2="503.00" y2="623.20" stroke="#5d5d5d" stroke-width="1.06"/>
<text x="492.19" y="0" font-size="12" fill="#2e2e2e" transform="translate(0,636.70) scale(1,1.03)"> 40</text>
<path d="M763 0L583 0L583 1147Q518 1085 412 1023Q306 961 222 930L222 1104Q373 1175 486 1276Q599 1377 646 1466L763 1466Z" fill="#2e2e2e" transform="translate(492.19,636.70) scale(0.005859,-0.005859)"/>
<line x1="546.00" y1="620.00" x2="546.00" y2="623.20" stroke="#5d5d5d" stroke-width="1.06"/>
<text x="535.19" y="0" font-size="12" fill="#2e2e2e" transform="translate(0,636.70) scale(1,1.03)"> 60</text>
<path d="M763 0L583 0L583 1147Q518 1085 412 1023Q306 961 222 930L222 1104Q373 1175 486 1276Q599 1377 646 1466L763 1466Z" fill="#2e2e2e" transform="translate(535.19,636.70) scale(0.005859,-0.005859)"/>
<line x1="589.00" y1="620.00" x2="589.00" y2="623.20" stroke="#5d5d5d" stroke-width="1.06"/>
<text x="578.19" y="0" font-size="12" fill="#2e2e2e" transform="translate(0,636.70) scale(1,1.03)"> 80</text>
<path d="M763 0L583 0L583 1147Q518 1085 412 1023Q306 961 222 930L222 1104Q373 1175 486 1276Q599 1377 646 1466L763 1466Z" fill="#2e2e2e" transform="translate(578.19,636.70) scale(0.005859,-0.005859)"/>
<line x1="632.00" y1="620.00" x2="632.00" y2="623.20" stroke="#5d5d5d" stroke-width="1.06"/>
<text x="621.19" y="0" font-size="12" fill="#2e2e2e" transform="translate(0,636.70) scale(1,1.03)">200</text>
<line x1="675.00" y1="620.00" x2="675.00" y2="623.20" stroke="#5d5d5d" stroke-width="1.06"/>
<text x="664.19" y="0" font-size="12" fill="#2e2e2e" transform="translate(0,636.70) scale(1,1.03)">220</text>
<line x1="210.60" y1="620.00" x2="210.60" y2="621.80" stroke="#5d5d5d" stroke-width="1.06"/>
<line x1="219.20" y1="620.00" x2="219.20" y2="621.80" stroke="#5d5d5d" stroke-width="1.06"/>
<line x1="227.80" y1="620.00" x2="227.80" y2="621.80" stroke="#5d5d5d" stroke-width="1.06"/>
<line x1="236.40" y1="620.00" x2="236.40" y2="621.80" stroke="#5d5d5d" stroke-width="1.06"/>
<line x1="253.60" y1="620.00" x2="253.60" y2="621.80" stroke="#5d5d5d" stroke-width="1.06"/>
<line x1="262.20" y1="620.00" x2="262.20" y2="621.80" stroke="#5d5d5d" stroke-width="1.06"/>
<line x1="270.80" y1="620.00" x2="270.80" y2="621.80" stroke="#5d5d5d" stroke-width="1.06"/>
<line x1="279.40" y1="620.00" x2="279.40" y2="621.80" stroke="#5d5d5d" stroke-width="1.06"/>
<line x1="296.60" y1="620.00" x2="296.60" y2="621.80" stroke="#5d5d5d" stroke-width="1.06"/>
<line x1="305.20" y1="620.00" x2="305.20" y2="621.80" stroke="#5d5d5d" stroke-width="1.06"/>
<line x1="313.80" y1="620.00" x2="313.80" y2="621.80" stroke="#5d5d5d" stroke-width="1.06"/>
<line x1="322.40" y1="620.00" x2="322.40" y2="621.80" stroke="#5d5d5d" stroke-width="1.06"/>
<line x1="339.60" y1="620.00" x2="339.60" y2="621.80" stroke="#5d5d5d" stroke-width="1.06"/>
<line x1="348.20" y1="620.00" x2="348.20" y2="621.80" stroke="#5d5d5d" stroke-width="1.06"/>
<line x1="356.80" y1="620.00" x2="356.80" y2="621.80" stroke="#5d5d5d" stroke-width="1.06"/>
<line x1="365.40" y1="620.00" x2="365.40" y2="621.80" stroke="#5d5d5d" stroke-width="1.06"/>
<line x1="382.60" y1="620.00" x2="382.60" y2="621.80" stroke="#5d5d5d" stroke-width="1.06"/>
<line x1="391.20" y1="620.00" x2="391.20" y2="621.80" stroke="#5d5d5d" stroke-width="1.06"/>
<line x1="399.80" y1="620.00" x2="399.80" y2="621.80" stroke="#5d5d5d" stroke-width="1.06"/>
<line x1="408.40" y1="620.00" x2="408.40" y2="621.80" stroke="#5d5d5d" stroke-width="1.06"/>
<line x1="425.60" y1="620.00" x2="425.60" y2="621.80" stroke="#5d5d5d" stroke-width="1.06"/>
<line x1="434.20" y1="620.00" x2="434.20" y2="621.80" stroke="#5d5d5d" stroke-width="1.06"/>
<line x1="442.80" y1="620.00" x2="442.80" y2="621.80" stroke="#5d5d5d" stroke-width="1.06"/>
<line x1="451.40" y1="620.00" x2="451.40" y2="621.80" stroke="#5d5d5d" stroke-width="1.06"/>
<line x1="468.60" y1="620.00" x2="468.60" y2="621.80" stroke="#5d5d5d" stroke-width="1.06"/>
<line x1="477.20" y1="620.00" x2="477.20" y2="621.80" stroke="#5d5d5d" stroke-width="1.06"/>
<line x1="485.80" y1="620.00" x2="485.80" y2="621.80" stroke="#5d5d5d" stroke-width="1.06"/>
<line x1="494.40" y1="620.00" x2="494.40" y2="621.80" stroke="#5d5d5d" stroke-width="1.06"/>
<line x1="511.60" y1="620.00" x2="511.60" y2="621.80" stroke="#5d5d5d" stroke-width="1.06"/>
<line x1="520.20" y1="620.00" x2="520.20" y2="621.80" stroke="#5d5d5d" stroke-width="1.06"/>
<line x1="528.80" y1="620.00" x2="528.80" y2="621.80" stroke="#5d5d5d" stroke-width="1.06"/>
<line x1="537.40" y1="620.00" x2="537.40" y2="621.80" stroke="#5d5d5d" stroke-width="1.06"/>
<line x1="554.60" y1="620.00" x2="554.60" y2="621.80" stroke="#5d5d5d" stroke-width="1.06"/>
<line x1="563.20" y1="620.00" x2="563.20" y2="621.80" stroke="#5d5d5d" stroke-width="1.06"/>
<line x1="571.80" y1="620.00" x2="571.80" y2="621.80" stroke="#5d5d5d" stroke-width="1.06"/>
<line x1="580.40" y1="620.00" x2="580.40" y2="621.80" stroke="#5d5d5d" stroke-width="1.06"/>
<line x1="597.60" y1="620.00" x2="597.60" y2="621.80" stroke="#5d5d5d" stroke-width="1.06"/>
<line x1="606.20" y1="620.00" x2="606.20" y2="621.80" stroke="#5d5d5d" stroke-width="1.06"/>
<line x1="614.80" y1="620.00" x2="614.80" y2="621.80" stroke="#5d5d5d" stroke-width="1.06"/>
<line x1="623.40" y1="620.00" x2="623.40" y2="621.80" stroke="#5d5d5d" stroke-width="1.06"/>
<line x1="640.60" y1="620.00" x2="640.60" y2="621.80" stroke="#5d5d5d" stroke-width="1.06"/>
<line x1="649.20" y1="620.00" x2="649.20" y2="621.80" stroke="#5d5d5d" stroke-width="1.06"/>
<line x1="657.80" y1="620.00" x2="657.80" y2="621.80" stroke="#5d5d5d" stroke-width="1.06"/>
<line x1="666.40" y1="620.00" x2="666.40" y2="621.80" stroke="#5d5d5d" stroke-width="1.06"/>
<text x="21.75" y="659.20" font-size="14.95" text-anchor="start" font-weight="normal" fill="#2e2e2e">2−year probability of DFS</text>
<line x1="284.40" y1="657.25" x2="599.65" y2="657.25" stroke="#5d5d5d" stroke-width="1.06"/>
<line x1="284.90" y1="656.75" x2="284.90" y2="660.15" stroke="#5d5d5d" stroke-width="1.06"/>
<text x="274.52" y="0" font-size="12" fill="#2e2e2e" transform="translate(0,671.80) scale(1,1.03)">0.95</text>
<line x1="344.36" y1="656.75" x2="344.36" y2="660.15" stroke="#5d5d5d" stroke-width="1.06"/>
<text x="337.04" y="0" font-size="12" fill="#2e2e2e" transform="translate(0,671.80) scale(1,1.03)">0.9</text>
<line x1="406.35" y1="656.75" x2="406.35" y2="660.15" stroke="#5d5d5d" stroke-width="1.06"/>
<text x="398.73" y="0" font-size="12" fill="#2e2e2e" transform="translate(0,671.80) scale(1,1.03)">0.8</text>
<line x1="445.09" y1="656.75" x2="445.09" y2="660.15" stroke="#5d5d5d" stroke-width="1.06"/>
<text x="437.29" y="0" font-size="12" fill="#2e2e2e" transform="translate(0,671.80) scale(1,1.03)">0.7</text>
<line x1="474.77" y1="656.75" x2="474.77" y2="660.15" stroke="#5d5d5d" stroke-width="1.06"/>
<text x="466.82" y="0" font-size="12" fill="#2e2e2e" transform="translate(0,671.80) scale(1,1.03)">0.6</text>
<line x1="499.98" y1="656.75" x2="499.98" y2="660.15" stroke="#5d5d5d" stroke-width="1.06"/>
<text x="491.91" y="0" font-size="12" fill="#2e2e2e" transform="translate(0,671.80) scale(1,1.03)">0.5</text>
<line x1="523.03" y1="656.75" x2="523.03" y2="660.15" stroke="#5d5d5d" stroke-width="1.06"/>
<text x="514.86" y="0" font-size="12" fill="#2e2e2e" transform="translate(0,671.80) scale(1,1.03)">0.4</text>
<line x1="545.59" y1="656.75" x2="545.59" y2="660.15" stroke="#5d5d5d" stroke-width="1.06"/>
<text x="537.30" y="0" font-size="12" fill="#2e2e2e" transform="translate(0,671.80) scale(1,1.03)">0.3</text>
<line x1="569.57" y1="656.75" x2="569.57" y2="660.15" stroke="#5d5d5d" stroke-width="1.06"/>
<text x="561.17" y="0" font-size="12" fill="#2e2e2e" transform="translate(0,671.80) scale(1,1.03)">0.2</text>
<line x1="599.15" y1="656.75" x2="599.15" y2="660.15" stroke="#5d5d5d" stroke-width="1.06"/>
<text x="590.61" y="0" font-size="12" fill="#2e2e2e" transform="translate(0,671.80) scale(1,1.03)">0. </text>
<path d="M763 0L583 0L583 1147Q518 1085 412 1023Q306 961 222 930L222 1104Q373 1175 486 1276Q599 1377 646 1466L763 1466Z" fill="#2e2e2e" transform="translate(600.62,671.80) scale(0.005859,-0.005859)"/>
<text x="21.75" y="696.00" font-size="14.95" text-anchor="start" font-weight="normal" fill="#2e2e2e">3−year probability of DFS</text>
<line x1="264.40" y1="693.88" x2="579.65" y2="693.88" stroke="#5d5d5d" stroke-width="1.06"/>
<line x1="264.90" y1="693.38" x2="264.90" y2="696.78" stroke="#5d5d5d" stroke-width="1.06"/>
<text x="254.52" y="0" font-size="12" fill="#2e2e2e" transform="translate(0,709.20) scale(1,1.03)">0.95</text>
<line x1="324.36" y1="693.38" x2="324.36" y2="696.78" stroke="#5d5d5d" stroke-width="1.06"/>
<text x="317.04" y="0" font-size="12" fill="#2e2e2e" transform="translate(0,709.20) scale(1,1.03)">0.9</text>
<line x1="386.35" y1="693.38" x2="386.35" y2="696.78" stroke="#5d5d5d" stroke-width="1.06"/>
<text x="378.73" y="0" font-size="12" fill="#2e2e2e" transform="translate(0,709.20) scale(1,1.03)">0.8</text>
<line x1="425.09" y1="693.38" x2="425.09" y2="696.78" stroke="#5d5d5d" stroke-width="1.06"/>
<text x="417.29" y="0" font-size="12" fill="#2e2e2e" transform="translate(0,709.20) scale(1,1.03)">0.7</text>
<line x1="454.77" y1="693.38" x2="454.77" y2="696.78" stroke="#5d5d5d" stroke-width="1.06"/>
<text x="446.82" y="0" font-size="12" fill="#2e2e2e" transform="translate(0,709.20) scale(1,1.03)">0.6</text>
<line x1="479.98" y1="693.38" x2="479.98" y2="696.78" stroke="#5d5d5d" stroke-width="1.06"/>
<text x="471.91" y="0" font-size="12" fill="#2e2e2e" transform="translate(0,709.20) scale(1,1.03)">0.5</text>
<line x1="503.03" y1="693.38" x2="503.03" y2="696.78" stroke="#5d5d5d" stroke-width="1.06"/>
<text x="494.86" y="0" font-size="12" fill="#2e2e2e" transform="translate(0,709.20) scale(1,1.03)">0.4</text>
<line x1="525.59" y1="693.38" x2="525.59" y2="696.78" stroke="#5d5d5d" stroke-width="1.06"/>
<text x="517.30" y="0" font-size="12" fill="#2e2e2e" transform="translate(0,709.20) scale(1,1.03)">0.3</text>
<line x1="549.57" y1="693.38" x2="549.57" y2="696.78" stroke="#5d5d5d" stroke-width="1.06"/>
<text x="541.17" y="0" font-size="12" fill="#2e2e2e" transform="translate(0,709.20) scale(1,1.03)">0.2</text>
<line x1="579.15" y1="693.38" x2="579.15" y2="696.78" stroke="#5d5d5d" stroke-width="1.06"/>
<text x="570.61" y="0" font-size="12" fill="#2e2e2e" transform="translate(0,709.20) scale(1,1.03)">0. </text>
<path d="M763 0L583 0L583 1147Q518 1085 412 1023Q306 961 222 930L222 1104Q373 1175 486 1276Q599 1377 646 1466L763 1466Z" fill="#2e2e2e" transform="translate(580.62,709.20) scale(0.005859,-0.005859)"/>
<text x="21.75" y="732.80" font-size="14.95" text-anchor="start" font-weight="normal" fill="#2e2e2e">5−year probability of DFS</text>
<line x1="282.90" y1="730.50" x2="538.90" y2="730.50" stroke="#5d5d5d" stroke-width="1.06"/>
<line x1="283.40" y1="730.00" x2="283.40" y2="733.40" stroke="#5d5d5d" stroke-width="1.06"/>
<text x="275.21" y="0" font-size="12" fill="#2e2e2e" transform="translate(0,745.80) scale(1,1.03)">0.9</text>
<line x1="345.44" y1="730.00" x2="345.44" y2="733.40" stroke="#5d5d5d" stroke-width="1.06"/>
<text x="337.19" y="0" font-size="12" fill="#2e2e2e" transform="translate(0,745.80) scale(1,1.03)">0.8</text>
<line x1="384.22" y1="730.00" x2="384.22" y2="733.40" stroke="#5d5d5d" stroke-width="1.06"/>
<text x="375.93" y="0" font-size="12" fill="#2e2e2e" transform="translate(0,745.80) scale(1,1.03)">0.7</text>
<line x1="413.91" y1="730.00" x2="413.91" y2="733.40" stroke="#5d5d5d" stroke-width="1.06"/>
<text x="405.59" y="0" font-size="12" fill="#2e2e2e" transform="translate(0,745.80) scale(1,1.03)">0.6</text>
<line x1="439.15" y1="730.00" x2="439.15" y2="733.40" stroke="#5d5d5d" stroke-width="1.06"/>
<text x="430.80" y="0" font-size="12" fill="#2e2e2e" transform="translate(0,745.80) scale(1,1.03)">0.5</text>
<line x1="462.22" y1="730.00" x2="462.22" y2="733.40" stroke="#5d5d5d" stroke-width="1.06"/>
<text x="453.85" y="0" font-size="12" fill="#2e2e2e" transform="translate(0,745.80) scale(1,1.03)">0.4</text>
<line x1="484.79" y1="730.00" x2="484.79" y2="733.40" stroke="#5d5d5d" stroke-width="1.06"/>
<text x="476.41" y="0" font-size="12" fill="#2e2e2e" transform="translate(0,745.80) scale(1,1.03)">0.3</text>
<line x1="508.79" y1="730.00" x2="508.79" y2="733.40" stroke="#5d5d5d" stroke-width="1.06"/>
<text x="500.38" y="0" font-size="12" fill="#2e2e2e" transform="translate(0,745.80) scale(1,1.03)">0.2</text>
<line x1="538.40" y1="730.00" x2="538.40" y2="733.40" stroke="#5d5d5d" stroke-width="1.06"/>
<text x="529.96" y="0" font-size="12" fill="#2e2e2e" transform="translate(0,745.80) scale(1,1.03)">0. </text>
<path d="M763 0L583 0L583 1147Q518 1085 412 1023Q306 961 222 930L222 1104Q373 1175 486 1276Q599 1377 646 1466L763 1466Z" fill="#2e2e2e" transform="translate(539.97,745.80) scale(0.005859,-0.005859)"/>
<rect x="223" y="730" width="2" height="1" fill="#c8c8c8"/>
</svg></body></html>
